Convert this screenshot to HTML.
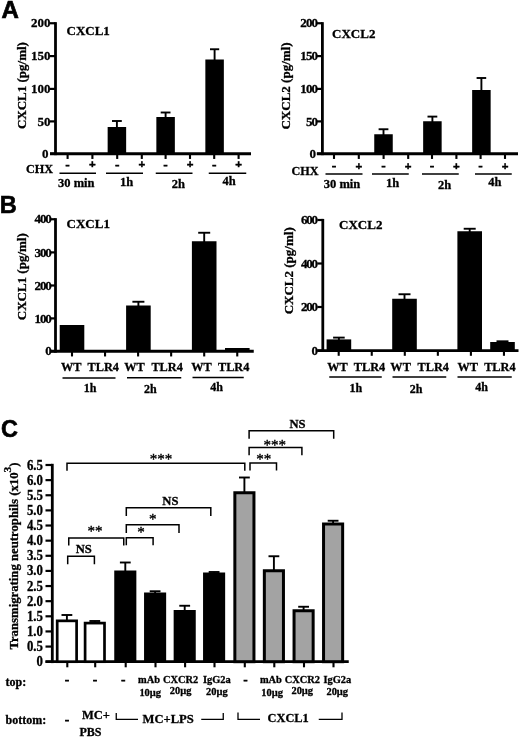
<!DOCTYPE html>
<html lang="en"><head><meta charset="utf-8"><title>Figure</title>
<style>
html,body{margin:0;padding:0;background:#fff;}
svg{display:block;}
text.s{font-family:"Liberation Serif", serif;font-weight:bold;fill:#000;stroke:#000;stroke-width:0.3px;}
text.a{font-family:"Liberation Sans", sans-serif;font-weight:bold;fill:#000;}
text.pm{stroke-width:0.7px;}
</style></head>
<body>
<svg width="520" height="738" viewBox="0 0 520 738">
<rect width="520" height="738" fill="#fff"/>
<text class="a" x="1.5" y="17.9" font-size="24" text-anchor="start" style="stroke:#000;stroke-width:0.7px">A</text>
<text class="a" x="-0.2" y="213.2" font-size="23.6" text-anchor="start" style="stroke:#000;stroke-width:0.6px">B</text>
<text class="a" x="1.0" y="437.4" font-size="23.4" text-anchor="start" style="stroke:#000;stroke-width:0.6px">C</text>
<line x1="55.5" y1="22.15" x2="55.5" y2="155.15" stroke="#000" stroke-width="2.8"/>
<line x1="50.0" y1="153.75" x2="251" y2="153.75" stroke="#000" stroke-width="2.8"/>
<line x1="50.0" y1="23.25" x2="55.5" y2="23.25" stroke="#000" stroke-width="2.2"/>
<text class="s" x="50.6" y="27.45" font-size="13" text-anchor="end">200</text>
<line x1="50.0" y1="56.1" x2="55.5" y2="56.1" stroke="#000" stroke-width="2.2"/>
<text class="s" x="50.6" y="60.300000000000004" font-size="13" text-anchor="end">150</text>
<line x1="50.0" y1="88.9" x2="55.5" y2="88.9" stroke="#000" stroke-width="2.2"/>
<text class="s" x="50.6" y="93.10000000000001" font-size="13" text-anchor="end">100</text>
<line x1="50.0" y1="121.4" x2="55.5" y2="121.4" stroke="#000" stroke-width="2.2"/>
<text class="s" x="50.6" y="125.60000000000001" font-size="13" text-anchor="end">50</text>
<line x1="50.0" y1="153.75" x2="55.5" y2="153.75" stroke="#000" stroke-width="2.2"/>
<text class="s" x="48.6" y="157.95" font-size="13" text-anchor="end">0</text>
<line x1="67.6" y1="153.75" x2="67.6" y2="158.95" stroke="#000" stroke-width="2.1"/>
<line x1="92.4" y1="153.75" x2="92.4" y2="158.95" stroke="#000" stroke-width="2.1"/>
<line x1="117.2" y1="153.75" x2="117.2" y2="158.95" stroke="#000" stroke-width="2.1"/>
<line x1="141.8" y1="153.75" x2="141.8" y2="158.95" stroke="#000" stroke-width="2.1"/>
<line x1="165.6" y1="153.75" x2="165.6" y2="158.95" stroke="#000" stroke-width="2.1"/>
<line x1="190" y1="153.75" x2="190" y2="158.95" stroke="#000" stroke-width="2.1"/>
<line x1="214.2" y1="153.75" x2="214.2" y2="158.95" stroke="#000" stroke-width="2.1"/>
<line x1="238.6" y1="153.75" x2="238.6" y2="158.95" stroke="#000" stroke-width="2.1"/>
<rect x="107.65" y="127.00" width="18.50" height="26.75" fill="#000"/>
<line x1="116.9" y1="128" x2="116.9" y2="121" stroke="#000" stroke-width="1.9"/>
<line x1="112.0" y1="121" x2="121.80000000000001" y2="121" stroke="#000" stroke-width="1.9"/>
<rect x="156.35" y="117.00" width="18.50" height="36.75" fill="#000"/>
<line x1="165.6" y1="118" x2="165.6" y2="112.5" stroke="#000" stroke-width="1.9"/>
<line x1="160.7" y1="112.5" x2="170.5" y2="112.5" stroke="#000" stroke-width="1.9"/>
<rect x="205.35" y="59.50" width="18.50" height="94.25" fill="#000"/>
<line x1="214.6" y1="60.5" x2="214.6" y2="49.25" stroke="#000" stroke-width="1.9"/>
<line x1="210.0" y1="49.25" x2="219.2" y2="49.25" stroke="#000" stroke-width="1.9"/>
<text class="s" x="66.5" y="34.699999999999996" font-size="13" text-anchor="start">CXCL1</text>
<text class="s" transform="translate(26.4,85.6) rotate(-90)" font-size="13" text-anchor="middle">CXCL1 (pg/ml)</text>
<line x1="322.4" y1="22.15" x2="322.4" y2="155.15" stroke="#000" stroke-width="2.8"/>
<line x1="316.9" y1="153.75" x2="518" y2="153.75" stroke="#000" stroke-width="2.8"/>
<line x1="316.9" y1="23.25" x2="322.4" y2="23.25" stroke="#000" stroke-width="2.2"/>
<text class="s" x="317.1" y="27.45" font-size="13" text-anchor="end" letter-spacing="-0.9">200</text>
<line x1="316.9" y1="56.1" x2="322.4" y2="56.1" stroke="#000" stroke-width="2.2"/>
<text class="s" x="317.1" y="60.300000000000004" font-size="13" text-anchor="end" letter-spacing="-0.9">150</text>
<line x1="316.9" y1="88.9" x2="322.4" y2="88.9" stroke="#000" stroke-width="2.2"/>
<text class="s" x="317.1" y="93.10000000000001" font-size="13" text-anchor="end" letter-spacing="-0.9">100</text>
<line x1="316.9" y1="121.4" x2="322.4" y2="121.4" stroke="#000" stroke-width="2.2"/>
<text class="s" x="317.1" y="125.60000000000001" font-size="13" text-anchor="end" letter-spacing="-0.9">50</text>
<line x1="316.9" y1="153.75" x2="322.4" y2="153.75" stroke="#000" stroke-width="2.2"/>
<text class="s" x="315.1" y="157.95" font-size="13" text-anchor="end" letter-spacing="-0.9">0</text>
<line x1="334.0" y1="153.75" x2="334.0" y2="158.95" stroke="#000" stroke-width="2.1"/>
<line x1="358.79999999999995" y1="153.75" x2="358.79999999999995" y2="158.95" stroke="#000" stroke-width="2.1"/>
<line x1="383.59999999999997" y1="153.75" x2="383.59999999999997" y2="158.95" stroke="#000" stroke-width="2.1"/>
<line x1="408.2" y1="153.75" x2="408.2" y2="158.95" stroke="#000" stroke-width="2.1"/>
<line x1="432.0" y1="153.75" x2="432.0" y2="158.95" stroke="#000" stroke-width="2.1"/>
<line x1="456.4" y1="153.75" x2="456.4" y2="158.95" stroke="#000" stroke-width="2.1"/>
<line x1="480.59999999999997" y1="153.75" x2="480.59999999999997" y2="158.95" stroke="#000" stroke-width="2.1"/>
<line x1="505.0" y1="153.75" x2="505.0" y2="158.95" stroke="#000" stroke-width="2.1"/>
<rect x="374.25" y="134.25" width="18.50" height="19.50" fill="#000"/>
<line x1="383.5" y1="135.25" x2="383.5" y2="129.25" stroke="#000" stroke-width="1.9"/>
<line x1="378.6" y1="129.25" x2="388.4" y2="129.25" stroke="#000" stroke-width="1.9"/>
<rect x="423.15" y="121.25" width="18.50" height="32.50" fill="#000"/>
<line x1="432.4" y1="122.25" x2="432.4" y2="116.6" stroke="#000" stroke-width="1.9"/>
<line x1="427.5" y1="116.6" x2="437.29999999999995" y2="116.6" stroke="#000" stroke-width="1.9"/>
<rect x="472.15" y="90.00" width="18.50" height="63.75" fill="#000"/>
<line x1="481.4" y1="91" x2="481.4" y2="78" stroke="#000" stroke-width="1.9"/>
<line x1="476.59999999999997" y1="78" x2="486.2" y2="78" stroke="#000" stroke-width="1.9"/>
<text class="s" x="332.1" y="38.3" font-size="13" text-anchor="start">CXCL2</text>
<text class="s" transform="translate(290.2,86) rotate(-90)" font-size="13" text-anchor="middle">CXCL2 (pg/ml)</text>
<text class="s" x="67.6" y="168.8" font-size="12" text-anchor="middle" style="stroke-width:0.8px">-</text>
<text class="a" x="92.4" y="168.3" font-size="11.5" text-anchor="middle" style="stroke:#000;stroke-width:0.4px">+</text>
<text class="s" x="117.2" y="168.8" font-size="12" text-anchor="middle" style="stroke-width:0.8px">-</text>
<text class="a" x="141.8" y="168.3" font-size="11.5" text-anchor="middle" style="stroke:#000;stroke-width:0.4px">+</text>
<text class="s" x="165.6" y="168.8" font-size="12" text-anchor="middle" style="stroke-width:0.8px">-</text>
<text class="a" x="190" y="168.3" font-size="11.5" text-anchor="middle" style="stroke:#000;stroke-width:0.4px">+</text>
<text class="s" x="214.2" y="168.8" font-size="12" text-anchor="middle" style="stroke-width:0.8px">-</text>
<text class="a" x="238.6" y="168.3" font-size="11.5" text-anchor="middle" style="stroke:#000;stroke-width:0.4px">+</text>
<text class="s" x="26" y="173.2" font-size="12.2" text-anchor="start">CHX</text>
<line x1="59.5" y1="173.2" x2="96" y2="173.2" stroke="#000" stroke-width="1.5"/>
<text class="s" x="58" y="186.8" font-size="12.5" text-anchor="start">30 min</text>
<line x1="106" y1="173.2" x2="143" y2="173.2" stroke="#000" stroke-width="1.5"/>
<text class="s" x="126.7" y="185.8" font-size="12.5" text-anchor="middle">1h</text>
<line x1="155.75" y1="173.2" x2="192.5" y2="173.2" stroke="#000" stroke-width="1.5"/>
<text class="s" x="178.325" y="187.5" font-size="12.5" text-anchor="middle">2h</text>
<line x1="208.75" y1="173.2" x2="246.25" y2="173.2" stroke="#000" stroke-width="1.5"/>
<text class="s" x="229.0" y="185" font-size="12.5" text-anchor="middle">4h</text>
<text class="s" x="334.0" y="170.3" font-size="12" text-anchor="middle" style="stroke-width:0.8px">-</text>
<text class="a" x="358.79999999999995" y="169.5" font-size="11.5" text-anchor="middle" style="stroke:#000;stroke-width:0.4px">+</text>
<text class="s" x="383.59999999999997" y="170.3" font-size="12" text-anchor="middle" style="stroke-width:0.8px">-</text>
<text class="a" x="408.2" y="169.5" font-size="11.5" text-anchor="middle" style="stroke:#000;stroke-width:0.4px">+</text>
<text class="s" x="432.0" y="170.3" font-size="12" text-anchor="middle" style="stroke-width:0.8px">-</text>
<text class="a" x="456.4" y="169.5" font-size="11.5" text-anchor="middle" style="stroke:#000;stroke-width:0.4px">+</text>
<text class="s" x="480.59999999999997" y="170.3" font-size="12" text-anchor="middle" style="stroke-width:0.8px">-</text>
<text class="a" x="505.0" y="169.5" font-size="11.5" text-anchor="middle" style="stroke:#000;stroke-width:0.4px">+</text>
<text class="s" x="291.5" y="174.6" font-size="12.2" text-anchor="start">CHX</text>
<line x1="325.5" y1="174" x2="362.5" y2="174" stroke="#000" stroke-width="1.5"/>
<text class="s" x="323.75" y="188" font-size="12.5" text-anchor="start">30 min</text>
<line x1="372" y1="174" x2="408.75" y2="174" stroke="#000" stroke-width="1.5"/>
<text class="s" x="392.575" y="187" font-size="12.5" text-anchor="middle">1h</text>
<line x1="422" y1="174" x2="458.75" y2="174" stroke="#000" stroke-width="1.5"/>
<text class="s" x="444.575" y="188.75" font-size="12.5" text-anchor="middle">2h</text>
<line x1="475" y1="174" x2="511.75" y2="174" stroke="#000" stroke-width="1.5"/>
<text class="s" x="494.875" y="186.25" font-size="12.5" text-anchor="middle">4h</text>
<line x1="55.5" y1="218.15" x2="55.5" y2="352.65" stroke="#000" stroke-width="2.8"/>
<line x1="50.0" y1="351.25" x2="253.75" y2="351.25" stroke="#000" stroke-width="2.8"/>
<line x1="50.0" y1="219.25" x2="55.5" y2="219.25" stroke="#000" stroke-width="2.2"/>
<text class="s" x="50.5" y="223.45" font-size="13" text-anchor="end" letter-spacing="-1.2">400</text>
<line x1="50.0" y1="252.4" x2="55.5" y2="252.4" stroke="#000" stroke-width="2.2"/>
<text class="s" x="50.5" y="256.6" font-size="13" text-anchor="end" letter-spacing="-1.2">300</text>
<line x1="50.0" y1="285.5" x2="55.5" y2="285.5" stroke="#000" stroke-width="2.2"/>
<text class="s" x="50.5" y="289.7" font-size="13" text-anchor="end" letter-spacing="-1.2">200</text>
<line x1="50.0" y1="318.4" x2="55.5" y2="318.4" stroke="#000" stroke-width="2.2"/>
<text class="s" x="50.5" y="322.59999999999997" font-size="13" text-anchor="end" letter-spacing="-1.2">100</text>
<line x1="50.0" y1="351.25" x2="55.5" y2="351.25" stroke="#000" stroke-width="2.2"/>
<text class="s" x="50.5" y="355.45" font-size="13" text-anchor="end" letter-spacing="-1.2">0</text>
<line x1="72.0" y1="351.25" x2="72.0" y2="356.45" stroke="#000" stroke-width="2.1"/>
<line x1="105.05" y1="351.25" x2="105.05" y2="356.45" stroke="#000" stroke-width="2.1"/>
<line x1="138.1" y1="351.25" x2="138.1" y2="356.45" stroke="#000" stroke-width="2.1"/>
<line x1="171.14999999999998" y1="351.25" x2="171.14999999999998" y2="356.45" stroke="#000" stroke-width="2.1"/>
<line x1="204.2" y1="351.25" x2="204.2" y2="356.45" stroke="#000" stroke-width="2.1"/>
<line x1="237.25" y1="351.25" x2="237.25" y2="356.45" stroke="#000" stroke-width="2.1"/>
<rect x="59.70" y="325.00" width="24.60" height="26.25" fill="#000"/>
<rect x="126.10" y="305.50" width="24.60" height="45.75" fill="#000"/>
<line x1="138.4" y1="306.5" x2="138.4" y2="301.75" stroke="#000" stroke-width="1.9"/>
<line x1="132.4" y1="301.75" x2="144.4" y2="301.75" stroke="#000" stroke-width="1.9"/>
<rect x="191.90" y="241.25" width="24.60" height="110.00" fill="#000"/>
<line x1="204.2" y1="242.25" x2="204.2" y2="232.75" stroke="#000" stroke-width="1.9"/>
<line x1="198.2" y1="232.75" x2="210.2" y2="232.75" stroke="#000" stroke-width="1.9"/>
<rect x="225.00" y="348.00" width="24.60" height="3.25" fill="#000"/>
<text class="s" x="66.6" y="228.3" font-size="13" text-anchor="start">CXCL1</text>
<text class="s" transform="translate(26.3,276.7) rotate(-90)" font-size="13" text-anchor="middle">CXCL1 (pg/ml)</text>
<line x1="322.8" y1="218.9" x2="322.8" y2="352.0" stroke="#000" stroke-width="2.8"/>
<line x1="317.3" y1="350.6" x2="518.5" y2="350.6" stroke="#000" stroke-width="2.8"/>
<line x1="317.3" y1="220" x2="322.8" y2="220" stroke="#000" stroke-width="2.2"/>
<text class="s" x="316.8" y="224.2" font-size="13" text-anchor="end" letter-spacing="-1.2">600</text>
<line x1="317.3" y1="263.5" x2="322.8" y2="263.5" stroke="#000" stroke-width="2.2"/>
<text class="s" x="316.8" y="267.7" font-size="13" text-anchor="end" letter-spacing="-1.2">400</text>
<line x1="317.3" y1="307" x2="322.8" y2="307" stroke="#000" stroke-width="2.2"/>
<text class="s" x="316.8" y="311.2" font-size="13" text-anchor="end" letter-spacing="-1.2">200</text>
<line x1="317.3" y1="350.6" x2="322.8" y2="350.6" stroke="#000" stroke-width="2.2"/>
<text class="s" x="316.8" y="354.8" font-size="13" text-anchor="end" letter-spacing="-1.2">0</text>
<line x1="338.7" y1="350.6" x2="338.7" y2="355.8" stroke="#000" stroke-width="2.1"/>
<line x1="371.75" y1="350.6" x2="371.75" y2="355.8" stroke="#000" stroke-width="2.1"/>
<line x1="404.79999999999995" y1="350.6" x2="404.79999999999995" y2="355.8" stroke="#000" stroke-width="2.1"/>
<line x1="437.84999999999997" y1="350.6" x2="437.84999999999997" y2="355.8" stroke="#000" stroke-width="2.1"/>
<line x1="470.9" y1="350.6" x2="470.9" y2="355.8" stroke="#000" stroke-width="2.1"/>
<line x1="503.95" y1="350.6" x2="503.95" y2="355.8" stroke="#000" stroke-width="2.1"/>
<rect x="326.60" y="339.40" width="24.60" height="11.20" fill="#000"/>
<line x1="338.9" y1="340.4" x2="338.9" y2="337.6" stroke="#000" stroke-width="1.9"/>
<line x1="333.09999999999997" y1="337.6" x2="344.7" y2="337.6" stroke="#000" stroke-width="1.9"/>
<rect x="392.20" y="298.75" width="24.60" height="51.85" fill="#000"/>
<line x1="404.5" y1="299.75" x2="404.5" y2="294.25" stroke="#000" stroke-width="1.9"/>
<line x1="398.5" y1="294.25" x2="410.5" y2="294.25" stroke="#000" stroke-width="1.9"/>
<rect x="457.40" y="231.25" width="24.60" height="119.35" fill="#000"/>
<line x1="469.7" y1="232.25" x2="469.7" y2="228.75" stroke="#000" stroke-width="1.9"/>
<line x1="463.7" y1="228.75" x2="475.7" y2="228.75" stroke="#000" stroke-width="1.9"/>
<rect x="490.20" y="342.00" width="24.60" height="8.60" fill="#000"/>
<line x1="502.5" y1="343" x2="502.5" y2="341.3" stroke="#000" stroke-width="1.9"/>
<line x1="496.5" y1="341.3" x2="508.5" y2="341.3" stroke="#000" stroke-width="1.9"/>
<text class="s" x="339.1" y="229.05" font-size="13" text-anchor="start">CXCL2</text>
<text class="s" transform="translate(293.4,270.8) rotate(-90)" font-size="13" text-anchor="middle">CXCL2 (pg/ml)</text>
<text class="s" x="71.3" y="370.6" font-size="12.3" text-anchor="middle">WT</text>
<text class="s" x="103.3" y="370.6" font-size="12.3" text-anchor="middle">TLR4</text>
<text class="s" x="134.4" y="370.6" font-size="12.3" text-anchor="middle">WT</text>
<text class="s" x="167.1" y="370.6" font-size="12.3" text-anchor="middle">TLR4</text>
<text class="s" x="201.5" y="370.6" font-size="12.3" text-anchor="middle">WT</text>
<text class="s" x="233.7" y="370.6" font-size="12.3" text-anchor="middle">TLR4</text>
<text class="s" x="337.5" y="370.6" font-size="12.3" text-anchor="middle">WT</text>
<text class="s" x="369.5" y="370.6" font-size="12.3" text-anchor="middle">TLR4</text>
<text class="s" x="400.6" y="370.6" font-size="12.3" text-anchor="middle">WT</text>
<text class="s" x="433.29999999999995" y="370.6" font-size="12.3" text-anchor="middle">TLR4</text>
<text class="s" x="467.7" y="370.6" font-size="12.3" text-anchor="middle">WT</text>
<text class="s" x="499.9" y="370.6" font-size="12.3" text-anchor="middle">TLR4</text>
<line x1="62.5" y1="378" x2="115.5" y2="378" stroke="#000" stroke-width="1.5"/>
<text class="s" x="90" y="391.75" font-size="12" text-anchor="middle">1h</text>
<line x1="127" y1="377.7" x2="181.25" y2="377.7" stroke="#000" stroke-width="1.5"/>
<text class="s" x="150.25" y="392.5" font-size="12" text-anchor="middle">2h</text>
<line x1="192.5" y1="377.5" x2="243.75" y2="377.5" stroke="#000" stroke-width="1.5"/>
<text class="s" x="216.5" y="390.75" font-size="12" text-anchor="middle">4h</text>
<line x1="329.25" y1="377" x2="381.75" y2="377" stroke="#000" stroke-width="1.5"/>
<text class="s" x="355.75" y="391.75" font-size="12" text-anchor="middle">1h</text>
<line x1="392.5" y1="377" x2="446.25" y2="377" stroke="#000" stroke-width="1.5"/>
<text class="s" x="416" y="392.5" font-size="12" text-anchor="middle">2h</text>
<line x1="457.5" y1="377" x2="511.75" y2="377" stroke="#000" stroke-width="1.5"/>
<text class="s" x="481.5" y="391.25" font-size="12" text-anchor="middle">4h</text>
<line x1="52.3" y1="463.8" x2="52.3" y2="663.1" stroke="#000" stroke-width="2.8"/>
<line x1="45.5" y1="661.7" x2="348.75" y2="661.7" stroke="#000" stroke-width="2.8"/>
<line x1="45.5" y1="661.7" x2="52.3" y2="661.7" stroke="#000" stroke-width="2.2"/>
<text class="s" transform="translate(42.9,666.20) scale(1,1.1)" font-size="12.8" text-anchor="end">0</text>
<line x1="45.5" y1="646.5692307692308" x2="52.3" y2="646.5692307692308" stroke="#000" stroke-width="2.2"/>
<text class="s" transform="translate(42.9,651.07) scale(1,1.1)" font-size="12.8" text-anchor="end">0.5</text>
<line x1="45.5" y1="631.4384615384615" x2="52.3" y2="631.4384615384615" stroke="#000" stroke-width="2.2"/>
<text class="s" transform="translate(42.9,635.94) scale(1,1.1)" font-size="12.8" text-anchor="end">1.0</text>
<line x1="45.5" y1="616.3076923076924" x2="52.3" y2="616.3076923076924" stroke="#000" stroke-width="2.2"/>
<text class="s" transform="translate(42.9,620.81) scale(1,1.1)" font-size="12.8" text-anchor="end">1.5</text>
<line x1="45.5" y1="601.1769230769231" x2="52.3" y2="601.1769230769231" stroke="#000" stroke-width="2.2"/>
<text class="s" transform="translate(42.9,605.68) scale(1,1.1)" font-size="12.8" text-anchor="end">2.0</text>
<line x1="45.5" y1="586.0461538461539" x2="52.3" y2="586.0461538461539" stroke="#000" stroke-width="2.2"/>
<text class="s" transform="translate(42.9,590.55) scale(1,1.1)" font-size="12.8" text-anchor="end">2.5</text>
<line x1="45.5" y1="570.9153846153846" x2="52.3" y2="570.9153846153846" stroke="#000" stroke-width="2.2"/>
<text class="s" transform="translate(42.9,575.42) scale(1,1.1)" font-size="12.8" text-anchor="end">3.0</text>
<line x1="45.5" y1="555.7846153846154" x2="52.3" y2="555.7846153846154" stroke="#000" stroke-width="2.2"/>
<text class="s" transform="translate(42.9,560.28) scale(1,1.1)" font-size="12.8" text-anchor="end">3.5</text>
<line x1="45.5" y1="540.6538461538462" x2="52.3" y2="540.6538461538462" stroke="#000" stroke-width="2.2"/>
<text class="s" transform="translate(42.9,545.15) scale(1,1.1)" font-size="12.8" text-anchor="end">4.0</text>
<line x1="45.5" y1="525.5230769230769" x2="52.3" y2="525.5230769230769" stroke="#000" stroke-width="2.2"/>
<text class="s" transform="translate(42.9,530.02) scale(1,1.1)" font-size="12.8" text-anchor="end">4.5</text>
<line x1="45.5" y1="510.39230769230767" x2="52.3" y2="510.39230769230767" stroke="#000" stroke-width="2.2"/>
<text class="s" transform="translate(42.9,514.89) scale(1,1.1)" font-size="12.8" text-anchor="end">5.0</text>
<line x1="45.5" y1="495.26153846153846" x2="52.3" y2="495.26153846153846" stroke="#000" stroke-width="2.2"/>
<text class="s" transform="translate(42.9,499.76) scale(1,1.1)" font-size="12.8" text-anchor="end">5.5</text>
<line x1="45.5" y1="480.13076923076926" x2="52.3" y2="480.13076923076926" stroke="#000" stroke-width="2.2"/>
<text class="s" transform="translate(42.9,484.63) scale(1,1.1)" font-size="12.8" text-anchor="end">6.0</text>
<line x1="45.5" y1="465.0" x2="52.3" y2="465.0" stroke="#000" stroke-width="2.2"/>
<text class="s" transform="translate(42.9,469.50) scale(1,1.1)" font-size="12.8" text-anchor="end">6.5</text>
<line x1="67.30000000000001" y1="661.7" x2="67.30000000000001" y2="667.3000000000001" stroke="#000" stroke-width="2.1"/>
<rect x="57.20" y="620.85" width="19.40" height="40.85" fill="#fff" stroke="#000" stroke-width="2.7"/>
<line x1="66.9" y1="620.5" x2="66.9" y2="615" stroke="#000" stroke-width="1.9"/>
<line x1="61.50000000000001" y1="615" x2="72.30000000000001" y2="615" stroke="#000" stroke-width="1.9"/>
<line x1="95.2" y1="661.7" x2="95.2" y2="667.3000000000001" stroke="#000" stroke-width="2.1"/>
<rect x="85.10" y="623.10" width="19.40" height="38.60" fill="#fff" stroke="#000" stroke-width="2.7"/>
<line x1="94.8" y1="622.75" x2="94.8" y2="621" stroke="#000" stroke-width="1.9"/>
<line x1="89.39999999999999" y1="621" x2="100.2" y2="621" stroke="#000" stroke-width="1.9"/>
<line x1="125.7" y1="661.7" x2="125.7" y2="667.3000000000001" stroke="#000" stroke-width="2.1"/>
<rect x="114.25" y="570.50" width="22.10" height="91.20" fill="#000"/>
<line x1="125.3" y1="571.5" x2="125.3" y2="562.5" stroke="#000" stroke-width="1.9"/>
<line x1="119.89999999999999" y1="562.5" x2="130.7" y2="562.5" stroke="#000" stroke-width="1.9"/>
<line x1="155.5" y1="661.7" x2="155.5" y2="667.3000000000001" stroke="#000" stroke-width="2.1"/>
<rect x="144.05" y="592.50" width="22.10" height="69.20" fill="#000"/>
<line x1="155.1" y1="593.5" x2="155.1" y2="591.25" stroke="#000" stroke-width="1.9"/>
<line x1="149.7" y1="591.25" x2="160.5" y2="591.25" stroke="#000" stroke-width="1.9"/>
<line x1="185.1" y1="661.7" x2="185.1" y2="667.3000000000001" stroke="#000" stroke-width="2.1"/>
<rect x="173.65" y="610.00" width="22.10" height="51.70" fill="#000"/>
<line x1="184.7" y1="611" x2="184.7" y2="605.75" stroke="#000" stroke-width="1.9"/>
<line x1="179.29999999999998" y1="605.75" x2="190.1" y2="605.75" stroke="#000" stroke-width="1.9"/>
<line x1="214.5" y1="661.7" x2="214.5" y2="667.3000000000001" stroke="#000" stroke-width="2.1"/>
<rect x="203.05" y="572.50" width="22.10" height="89.20" fill="#000"/>
<line x1="214.1" y1="573.5" x2="214.1" y2="572" stroke="#000" stroke-width="1.9"/>
<line x1="208.7" y1="572" x2="219.5" y2="572" stroke="#000" stroke-width="1.9"/>
<line x1="244.8" y1="661.7" x2="244.8" y2="667.3000000000001" stroke="#000" stroke-width="2.1"/>
<rect x="234.85" y="492.75" width="19.10" height="168.95" fill="#a3a3a3" stroke="#000" stroke-width="3.0"/>
<line x1="244.4" y1="492.25" x2="244.4" y2="477.5" stroke="#000" stroke-width="1.9"/>
<line x1="239.0" y1="477.5" x2="249.8" y2="477.5" stroke="#000" stroke-width="1.9"/>
<line x1="274.29999999999995" y1="661.7" x2="274.29999999999995" y2="667.3000000000001" stroke="#000" stroke-width="2.1"/>
<rect x="264.35" y="570.75" width="19.10" height="90.95" fill="#a3a3a3" stroke="#000" stroke-width="3.0"/>
<line x1="273.9" y1="570.25" x2="273.9" y2="556.25" stroke="#000" stroke-width="1.9"/>
<line x1="268.5" y1="556.25" x2="279.29999999999995" y2="556.25" stroke="#000" stroke-width="1.9"/>
<line x1="304.0" y1="661.7" x2="304.0" y2="667.3000000000001" stroke="#000" stroke-width="2.1"/>
<rect x="294.05" y="610.75" width="19.10" height="50.95" fill="#a3a3a3" stroke="#000" stroke-width="3.0"/>
<line x1="303.6" y1="610.25" x2="303.6" y2="606.75" stroke="#000" stroke-width="1.9"/>
<line x1="298.20000000000005" y1="606.75" x2="309.0" y2="606.75" stroke="#000" stroke-width="1.9"/>
<line x1="333.5" y1="661.7" x2="333.5" y2="667.3000000000001" stroke="#000" stroke-width="2.1"/>
<rect x="323.55" y="524.00" width="19.10" height="137.70" fill="#a3a3a3" stroke="#000" stroke-width="3.0"/>
<line x1="333.1" y1="523.5" x2="333.1" y2="520.75" stroke="#000" stroke-width="1.9"/>
<line x1="327.70000000000005" y1="520.75" x2="338.5" y2="520.75" stroke="#000" stroke-width="1.9"/>
<text class="s" transform="translate(17.7,649.6) rotate(-90) scale(1.045,1)" font-size="12.2">Transmigrating neutrophils (x10<tspan dy="-6.5" font-size="11">3</tspan><tspan dy="6.5">)</tspan></text>
<polyline points="67.7,564.25 67.7,556.25 94.4,556.25 94.4,564.25" fill="none" stroke="#000" stroke-width="1.5"/>
<text class="s" x="83.75" y="553.1" font-size="12.6" text-anchor="middle">NS</text>
<polyline points="68.75,545.6 68.75,538.0 123.75,538.0 123.75,545.6" fill="none" stroke="#000" stroke-width="1.5"/>
<text class="s" x="95" y="536.1" font-size="15" text-anchor="middle" style="font-weight:normal;stroke-width:0.35px">**</text>
<polyline points="67,470.7 67,463.2 244.8,463.2 244.8,470.7" fill="none" stroke="#000" stroke-width="1.5"/>
<text class="s" x="160.9" y="463.7" font-size="15" text-anchor="middle" style="font-weight:normal;stroke-width:0.35px">***</text>
<polyline points="126.3,515.9 126.3,507.7 210.8,507.7 210.8,515.9" fill="none" stroke="#000" stroke-width="1.5"/>
<text class="s" x="170.4" y="504.6" font-size="12.6" text-anchor="middle">NS</text>
<polyline points="126.3,532.9000000000001 126.3,524.7 179,524.7 179,532.9000000000001" fill="none" stroke="#000" stroke-width="1.5"/>
<text class="s" x="152.7" y="524.4000000000001" font-size="15" text-anchor="middle" style="font-weight:normal;stroke-width:0.35px">*</text>
<polyline points="126.3,545.3 126.3,537.8 153.1,537.8 153.1,545.3" fill="none" stroke="#000" stroke-width="1.5"/>
<text class="s" x="140.9" y="537.4000000000001" font-size="15" text-anchor="middle" style="font-weight:normal;stroke-width:0.35px">*</text>
<polyline points="249.1,438.8 249.1,430.8 333.7,430.8 333.7,438.8" fill="none" stroke="#000" stroke-width="1.5"/>
<text class="s" x="297.5" y="428" font-size="12.6" text-anchor="middle">NS</text>
<polyline points="249.1,455.2 249.1,447.4 301.9,447.4 301.9,455.2" fill="none" stroke="#000" stroke-width="1.5"/>
<text class="s" x="274.8" y="449.59999999999997" font-size="15" text-anchor="middle" style="font-weight:normal;stroke-width:0.35px">***</text>
<polyline points="250,470.4 250,462.9 276.5,462.9 276.5,470.4" fill="none" stroke="#000" stroke-width="1.5"/>
<text class="s" x="263.85" y="463.5" font-size="15" text-anchor="middle" style="font-weight:normal;stroke-width:0.35px">**</text>
<g transform="translate(0,0.6)">
<text class="s" x="5.5" y="685" font-size="12" text-anchor="start">top:</text>
<text class="s" x="5.5" y="723.75" font-size="12" text-anchor="start">bottom:</text>
<text class="s" x="66.9" y="683.2" font-size="12" text-anchor="middle" style="stroke-width:0.8px">-</text>
<text class="s" x="94.9" y="683.2" font-size="12" text-anchor="middle" style="stroke-width:0.8px">-</text>
<text class="s" x="123.2" y="683.2" font-size="12" text-anchor="middle" style="stroke-width:0.8px">-</text>
<text class="s" x="245.6" y="683.2" font-size="12" text-anchor="middle" style="stroke-width:0.8px">-</text>
<text class="s" x="67" y="723.6" font-size="12" text-anchor="middle" style="stroke-width:0.8px">-</text>
<text class="s" x="82" y="718.25" font-size="12.5" text-anchor="start">MC+</text>
<text class="s" x="79.5" y="735.75" font-size="12" text-anchor="start">PBS</text>
<text class="s" x="149" y="682" font-size="10.4" text-anchor="middle">mAb</text>
<text class="s" x="150.2" y="695" font-size="10.4" text-anchor="middle">10µg</text>
<text class="s" x="180.6" y="682" font-size="10.4" text-anchor="middle">CXCR2</text>
<text class="s" x="180.6" y="693.75" font-size="10.4" text-anchor="middle">20µg</text>
<text class="s" x="216.9" y="682" font-size="10.4" text-anchor="middle">IgG2a</text>
<text class="s" x="216.9" y="694.5" font-size="10.4" text-anchor="middle">20µg</text>
<text class="s" x="270.9" y="682" font-size="10.4" text-anchor="middle">mAb</text>
<text class="s" x="272.09999999999997" y="695" font-size="10.4" text-anchor="middle">10µg</text>
<text class="s" x="302.25" y="682" font-size="10.4" text-anchor="middle">CXCR2</text>
<text class="s" x="302.25" y="693.75" font-size="10.4" text-anchor="middle">20µg</text>
<text class="s" x="337.25" y="682" font-size="10.4" text-anchor="middle">IgG2a</text>
<text class="s" x="337.25" y="694.5" font-size="10.4" text-anchor="middle">20µg</text>
<polyline points="116.25,712.5 116.25,718.75 138,718.75" fill="none" stroke="#000" stroke-width="1.3"/>
<polyline points="201.25,718.75 223.25,718.75 223.25,712.5" fill="none" stroke="#000" stroke-width="1.3"/>
<text class="s" x="142.5" y="722" font-size="12.6" text-anchor="start">MC+LPS</text>
<polyline points="238,712 238,718.75 260,718.75" fill="none" stroke="#000" stroke-width="1.3"/>
<polyline points="318.75,718.75 342,718.75 342,712" fill="none" stroke="#000" stroke-width="1.3"/>
<text class="s" x="267.5" y="721.25" font-size="12.4" text-anchor="start">CXCL1</text>
</g>
</svg>
</body></html>
